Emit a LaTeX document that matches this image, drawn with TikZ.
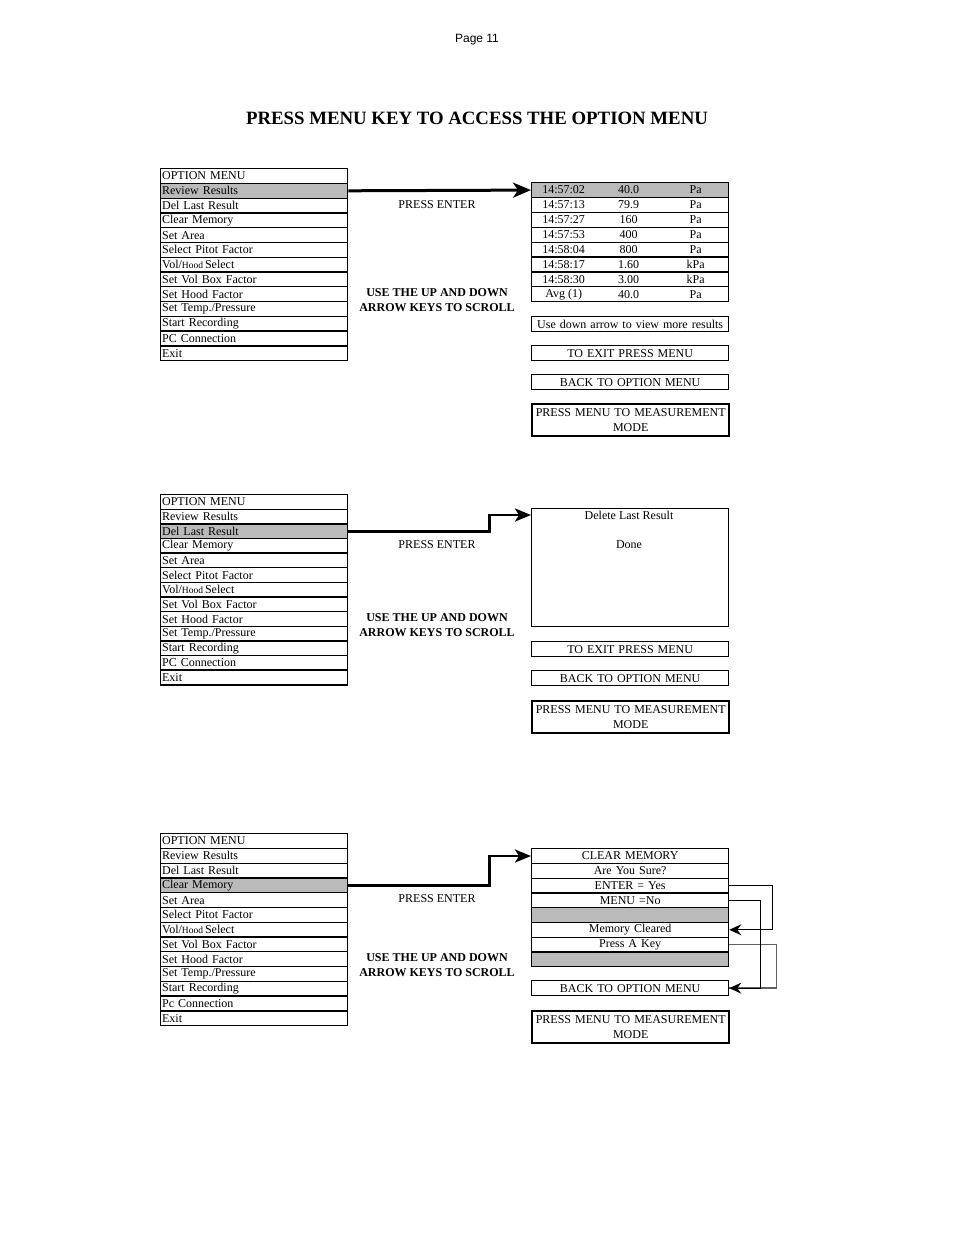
\documentclass[tikz,border=0pt]{standalone}
\usepackage{fontspec}
\setmainfont{Liberation Serif}
\setsansfont{Liberation Sans}
\usetikzlibrary{arrows.meta,positioning,calc}

\begin{document}
\begin{tikzpicture}[
  x=1pt, y=-1pt,
  every node/.style={font=\fontsize{12}{13}\selectfont, inner sep=0pt},
  menurow/.style={rectangle, draw, line width=1.3pt, anchor=north west, minimum height=14.75pt, text width=184pt, inner xsep=1.5pt, align=left},
  resrow/.style={rectangle, draw, line width=1.3pt, anchor=north west, minimum width=197pt, minimum height=14.875pt},
  clrrow/.style={rectangle, draw, line width=1.3pt, anchor=north west, minimum height=14.75pt, text width=195pt, inner xsep=1pt, align=center},
  boxrow/.style={rectangle, draw, line width=1.3pt, anchor=north west, minimum height=15pt, text width=195pt, inner xsep=1pt, align=center},
  modebox/.style={rectangle, draw, line width=2.4pt, anchor=north west, minimum height=32pt, text width=195pt, inner xsep=1pt, align=center, font=\fontsize{12}{15}\selectfont},
  scrolltxt/.style={align=center, font=\bfseries\fontsize{12}{15}\selectfont},
  bigarr/.style={line width=3pt, -{Stealth[length=18pt, width=15pt, inset=5pt]}},
  midarr/.style={line width=2.6pt, -{Stealth[length=16pt, width=13pt, inset=4pt]}},
  smallarr/.style={line width=1.3pt, -{Stealth[length=12pt, width=11pt, inset=4pt]}},
  greyline/.style={line width=1.4pt, draw=black!62}
]
  \useasboundingbox (0,0) rectangle (954,1235);

  \node[font=\sffamily\fontsize{12}{14}\selectfont] (page) at (477,40) {Page 11};
  \node[font=\bfseries\fontsize{18.8}{20}\selectfont] (title) at (477,118) {PRESS MENU KEY TO ACCESS THE OPTION MENU};

  % review results
  \foreach \txt [count=\i] in {OPTION MENU, Review Results, Del Last Result, Clear Memory, Set Area, Select Pitot Factor, Vol/{\fontsize{9.5}{10}\selectfont Hood}\,Select, Set Vol Box Factor, Set Hood Factor, Set Temp./Pressure, Start Recording, PC Connection, Exit}{
    \ifnum\i=2 \def\rowfill{black!27}\else\def\rowfill{white}\fi
    \node[menurow, fill=\rowfill] (a\i) at (160,{168+14.77*(\i-1)}) {\txt};
  }
  \foreach \t/\v/\u/\f [count=\i] in {14:57:02/40.0/Pa/black!27, 14:57:13/79.9/Pa/white, 14:57:27/160/Pa/white, 14:57:53/400/Pa/white, 14:58:04/800/Pa/white, 14:58:17/1.60/kPa/white, 14:58:30/3.00/kPa/white, Avg (1)/40.0/Pa/white}{
    \node[resrow, fill=\f] (r\i) at (531,{182+14.875*(\i-1)}) {};
    \node (rt\i) at ([xshift=-66.5pt]r\i.center) {\t};
    \node (rv\i) at ([xshift=-1.5pt]r\i.center) {\v};
    \node (ru\i) at ([xshift=65.5pt]r\i.center) {\u};
  }
  \node[boxrow] (more1) at (531,316) {Use down arrow to view more results};
  \node[boxrow] (exit1) at (531,345) {TO EXIT PRESS MENU};
  \node[boxrow] (back1) at (531,374) {BACK TO OPTION MENU};
  \node[modebox] (mode1) at (531,403) {PRESS MENU TO MEASUREMENT\\MODE};
  \node (enter1) at (437,205) {PRESS ENTER};
  \node[scrolltxt] (scroll1) at (437,300.5) {USE THE UP AND DOWN\\ARROW KEYS TO SCROLL};
  \draw[bigarr] (a2.east) -- (r1.west);

  % delete last result
  \foreach \txt [count=\i] in {OPTION MENU, Review Results, Del Last Result, Clear Memory, Set Area, Select Pitot Factor, Vol/{\fontsize{9.5}{10}\selectfont Hood}\,Select, Set Vol Box Factor, Set Hood Factor, Set Temp./Pressure, Start Recording, PC Connection, Exit}{
    \ifnum\i=3 \def\rowfill{black!27}\else\def\rowfill{white}\fi
    \node[menurow, fill=\rowfill] (b\i) at (160,{494+14.62*(\i-1)}) {\txt};
  }
  \node[rectangle, draw, line width=1.3pt, anchor=north west, minimum width=197pt, minimum height=118pt] (dbox) at (531,508) {};
  \node (dlr) at (629,515) {Delete Last Result};
  \node (done) at (629,545) {Done};
  \node[boxrow] (exit2) at (531,641) {TO EXIT PRESS MENU};
  \node[boxrow] (back2) at (531,670) {BACK TO OPTION MENU};
  \node[modebox] (mode2) at (531,700) {PRESS MENU TO MEASUREMENT\\MODE};
  \node (enter2) at (437,545) {PRESS ENTER};
  \node[scrolltxt] (scroll2) at (437,625.5) {USE THE UP AND DOWN\\ARROW KEYS TO SCROLL};
  \draw[midarr] (b3.east) -- ++(141,0) |- ([yshift=-7pt]dbox.north west);

  % clear memory
  \foreach \txt [count=\i] in {OPTION MENU, Review Results, Del Last Result, Clear Memory, Set Area, Select Pitot Factor, Vol/{\fontsize{9.5}{10}\selectfont Hood}\,Select, Set Vol Box Factor, Set Hood Factor, Set Temp./Pressure, Start Recording, Pc Connection, Exit}{
    \ifnum\i=4 \def\rowfill{black!27}\else\def\rowfill{white}\fi
    \node[menurow, fill=\rowfill] (c\i) at (160,{833+14.77*(\i-1)}) {\txt};
  }
  \foreach \txt/\f [count=\i] in {CLEAR MEMORY/white, Are You Sure?/white, ENTER = Yes/white, MENU =No/white, {}/black!27, Memory Cleared/white, Press A Key/white, {}/black!27}{
    \node[clrrow, fill=\f] (cm\i) at (531,{848+14.75*(\i-1)}) {\txt};
  }
  \node[boxrow] (back3) at (531,980) {BACK TO OPTION MENU};
  \node[modebox] (mode3) at (531,1010) {PRESS MENU TO MEASUREMENT\\MODE};
  \node (enter3) at (437,899) {PRESS ENTER};
  \node[scrolltxt] (scroll3) at (437,965.5) {USE THE UP AND DOWN\\ARROW KEYS TO SCROLL};
  \draw[midarr] (c4.east) -- ++(141,0) |- (cm1.west);
  \draw[smallarr] (cm3.east) -- ++(43,0) |- (cm6.east);
  \draw[greyline] (cm7.east) -- ++(47,0) |- (back3.east);
  \draw[smallarr] (cm4.east) -- ++(31,0) |- (back3.east);
\end{tikzpicture}
\end{document}
